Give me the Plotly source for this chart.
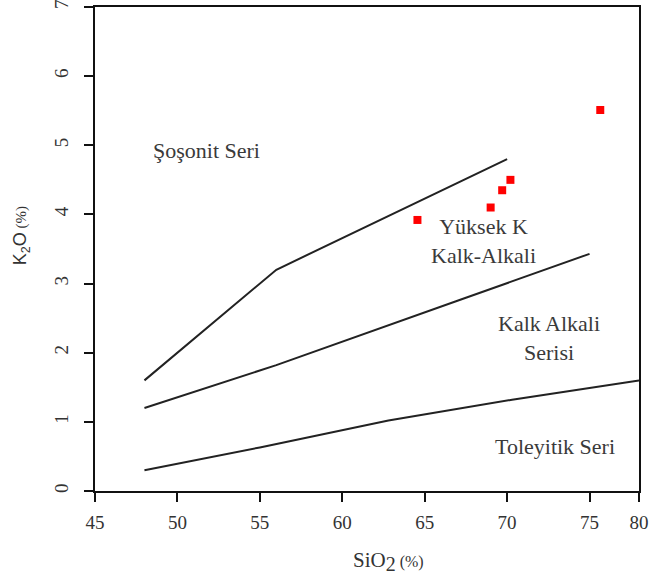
import plotly.graph_objects as go

# Boundary lines (SiO2, K2O)
shoshonite_x = [48, 56, 70]
shoshonite_y = [1.6, 3.2, 4.8]
highk_x = [48, 56, 67.2, 75]
highk_y = [1.2, 1.82, 2.77, 3.43]
tholeiite_x = [48, 55, 62.8, 70.3, 78]
tholeiite_y = [0.3, 0.63, 1.02, 1.32, 1.6]

# Samples
sample_sio2 = [75.65, 70.2, 69.7, 69.0, 64.56]
sample_k2o = [5.51, 4.50, 4.35, 4.10, 3.92]

# Region labels
label_text = ["Şoşonit Seri", "Yüksek K<br>Kalk-Alkali", "Kalk Alkali<br>Serisi", "Toleyitik Seri"]
label_x = [51.77, 68.57, 72.55, 72.9]
label_y = [4.92, 3.62, 2.21, 0.64]

# Axis ticks
x_tickvals = [45, 50, 55, 60, 65, 70, 75, 78]
x_ticktext = ["45", "50", "55", "60", "65", "70", "75", "80"]
y_tickvals = [0, 1, 2, 3, 4, 5, 6, 7]

serif = "Liberation Serif, Times New Roman, serif"
line_style = dict(color="#222222", width=2)

fig = go.Figure()
for xs, ys in [(shoshonite_x, shoshonite_y), (highk_x, highk_y), (tholeiite_x, tholeiite_y)]:
    fig.add_trace(go.Scatter(x=xs, y=ys, mode="lines", line=line_style,
                             showlegend=False, hoverinfo="skip"))

fig.add_trace(go.Scatter(x=sample_sio2, y=sample_k2o, mode="markers",
                         marker=dict(symbol="square", size=8, color="#ff0000",
                                     line=dict(width=0)),
                         showlegend=False))

for t, x, y in zip(label_text, label_x, label_y):
    fig.add_annotation(x=x, y=y, text=t, showarrow=False,
                       font=dict(family=serif, size=22, color="#3a3a3a"),
                       align="center", xanchor="center", yanchor="middle")

# Axis titles
fig.add_annotation(xref="paper", yref="paper", x=(388 - 95) / 544, y=-(561 - 490.5) / 483.5,
                   text="SiO<sub><span style='font-size:20px'>2</span></sub><span style='font-size:16px'> (%)</span>",
                   showarrow=False, font=dict(family=serif, size=21, color="#333333"),
                   xanchor="center", yanchor="middle")
fig.add_annotation(xref="paper", yref="paper", x=-(95 - 21) / 544, y=(490.5 - 236) / 483.5,
                   text="K<sub>2</sub>O<span style='font-size:15px;font-family:Liberation Serif'> (%)</span>",
                   textangle=-90, showarrow=False,
                   font=dict(family="Liberation Sans, Arial, sans-serif", size=18, color="#333333"),
                   xanchor="center", yanchor="middle")

axis_common = dict(showline=True, linecolor="#111111", linewidth=2, mirror=True,
                   ticks="outside", ticklen=9, tickwidth=2, tickcolor="#111111",
                   showgrid=False, zeroline=False, automargin=False,
                   ticklabeloverflow="allow",
                   tickfont=dict(family=serif, size=19, color="#333333"))

fig.update_xaxes(range=[45, 78], tickvals=x_tickvals, ticktext=x_ticktext,
                 ticklabelstandoff=4, **axis_common)
fig.update_yaxes(range=[0, 7], tickvals=y_tickvals, tickangle=-90,
                 ticklabelstandoff=8, **axis_common)

fig.update_layout(width=652, height=578,
                  margin=dict(l=95, r=13, t=7, b=87),
                  paper_bgcolor="white", plot_bgcolor="white")

fig.write_html("out.html", config={"displayModeBar": False},
               post_script="document.body.style.margin='0';document.body.style.overflow='hidden';")
